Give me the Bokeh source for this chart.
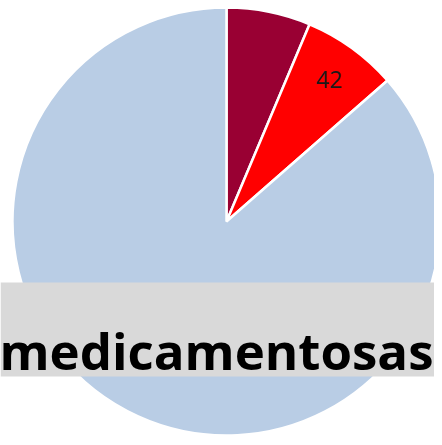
import numpy as np
from bokeh.plotting import figure
from bokeh.models import ColumnDataSource, Range1d
from bokeh.core.properties import value
from bokeh.embed import file_html
from bokeh.resources import INLINE

# Data
categories = ["Categoría A", "Categoría B", "Otras"]
values = [37, 42, 504]
colors = ["#990033", "#FF0000", "#B9CDE5"]
shown_labels = ["", "42", ""]
band_title = "medicamentosas"

W, H = 434, 437
p = figure(width=W, height=H, output_backend="svg", toolbar_location=None,
           x_range=Range1d(0, W), y_range=Range1d(0, H), min_border=0)
p.axis.visible = False
p.grid.visible = False
p.outline_line_color = None
p.background_fill_color = "white"
p.border_fill_color = "white"

vals = np.array(values, dtype=float)
frac = vals / vals.sum()
ends = np.cumsum(frac) * 2 * np.pi
starts = np.concatenate([[0], ends[:-1]])
# clockwise from 12 o'clock
start_angle = np.pi / 2 - starts
end_angle = np.pi / 2 - ends

cx, cy, r = 226, 216, 214
src = ColumnDataSource(dict(start=start_angle, end=end_angle, color=colors,
                            cat=categories))
p.wedge(x=cx, y=cy, radius=r, start_angle="start", end_angle="end",
        direction="clock", fill_color="color", line_color="white",
        line_width=2.5, source=src)

mid = (start_angle + end_angle) / 2
lr = 0.82 * r
lsrc = ColumnDataSource(dict(x=cx + lr * np.cos(mid), y=cy + lr * np.sin(mid),
                             t=shown_labels))
p.text(x="x", y="y", text="t", source=lsrc, text_align="center",
       text_baseline="middle", text_font=value("Open Sans"),
       text_font_size="23px", text_color="#1a1a1a")

# grey title band
p.quad(left=[0], right=[W], bottom=[61], top=[155], fill_color="#D9D9D9",
       line_color=None)
p.text(x=[216], y=[88], text=[band_title], text_align="center",
       text_baseline="alphabetic", text_font=value("Open Sans"),
       text_font_style="bold", text_font_size="51px", text_color="black")

open("out.html", "w").write(file_html(p, INLINE))
